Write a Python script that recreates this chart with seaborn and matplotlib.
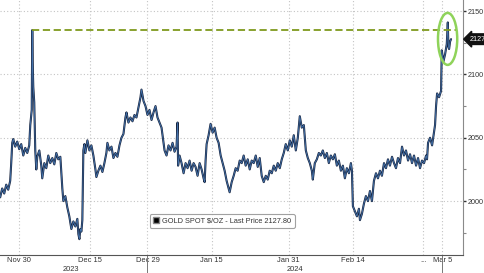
import numpy as np
import pandas as pd
import matplotlib
matplotlib.use("Agg")
import matplotlib.pyplot as plt
from matplotlib.patches import Ellipse
from matplotlib.lines import Line2D
import seaborn as sns

# ---------------- data ----------------
# trading-session calendar (weekends, Christmas and New Year removed)
cal_start = "2023-11-27"
cal_end = "2024-03-08"
holidays = ["2023-12-25", "2024-01-01"]

# time in trading sessions since 27 Nov 2023 00:00, and spot price
t_session = [
    0.03, 0.34, 0.66, 0.97, 1.28, 1.59, 1.75, 1.91, 2.06, 2.38, 2.69, 3.00, 3.31, 3.63,
    3.94, 4.25, 4.56, 4.72, 4.95, 5.03, 5.09, 5.19, 5.34, 5.50, 5.66, 5.81, 6.13, 6.44,
    6.59, 6.91, 7.22, 7.53, 7.84, 8.16, 8.47, 8.78, 9.09, 9.41, 9.72, 9.88, 10.19, 10.50,
    10.81, 11.13, 11.44, 11.75, 12.06, 12.22, 12.38, 12.53, 12.69, 12.84, 13.00, 13.16,
    13.31, 13.63, 13.94, 14.25, 14.56, 14.88, 15.03, 15.34, 15.66, 15.97, 16.28, 16.59,
    16.75, 17.06, 17.38, 17.69, 18.00, 18.31, 18.63, 18.94, 19.25, 19.56, 19.72, 20.03,
    20.34, 20.66, 20.97, 21.28, 21.59, 21.91, 22.06, 22.38, 22.69, 23.00, 23.31, 23.63,
    23.94, 24.25, 24.56, 24.88, 25.19, 25.50, 25.66, 25.97, 26.28, 26.59, 26.91, 27.22,
    27.53, 27.69, 27.77, 28.00, 28.31, 28.63, 28.94, 29.25, 29.56, 29.88, 30.19, 30.50,
    30.81, 31.13, 31.44, 31.75, 31.91, 32.06, 32.22, 32.53, 32.84, 33.16, 33.47, 33.78,
    34.09, 34.41, 34.72, 35.03, 35.34, 35.66, 35.81, 36.13, 36.44, 36.75, 37.06, 37.38,
    37.69, 38.00, 38.31, 38.63, 38.94, 39.25, 39.56, 39.88, 40.19, 40.50, 40.81, 41.13,
    41.44, 41.75, 42.06, 42.38, 42.69, 43.00, 43.31, 43.63, 43.94, 44.25, 44.56, 44.88,
    45.19, 45.50, 45.81, 46.13, 46.44, 46.75, 47.06, 47.38, 47.69, 48.00, 48.31, 48.63,
    48.78, 49.09, 49.41, 49.72, 50.03, 50.34, 50.66, 50.97, 51.28, 51.59, 51.91, 52.22,
    52.53, 52.84, 53.16, 53.47, 53.78, 54.09, 54.41, 54.72, 54.88, 55.03, 55.34, 55.66,
    55.97, 56.13, 56.44, 56.75, 57.06, 57.38, 57.69, 58.00, 58.31, 58.63, 58.94, 59.25,
    59.56, 59.88, 60.19, 60.50, 60.81, 61.13, 61.44, 61.75, 62.06, 62.38, 62.69, 63.00,
    63.31, 63.63, 63.94, 64.25, 64.56, 64.88, 65.19, 65.50, 65.81, 66.13, 66.44, 66.59,
    66.75, 67.06, 67.38, 67.69, 67.84, 68.00, 68.16, 68.47, 68.78, 68.89, 69.14, 69.41,
    69.67, 69.83, 69.92, 70.03, 70.19, 70.34,
]
price = [
    2003, 2010, 2006, 2013, 2009, 2016, 2030, 2046, 2049, 2043, 2047, 2041, 2045, 2036,
    2042, 2038, 2044, 2060, 2072, 2135, 2110, 2090, 2078, 2040, 2025, 2035, 2040, 2028,
    2018, 2030, 2026, 2036, 2030, 2034, 2029, 2038, 2033, 2035, 2010, 2000, 2004, 1995,
    1988, 1978, 1984, 1980, 1986, 1974, 1970, 1978, 1976, 1985, 2040, 2045,
    2038, 2048, 2040, 2044, 2036, 2025, 2019, 2024, 2028, 2023, 2030, 2038,
    2046, 2040, 2043, 2034, 2038, 2035, 2044, 2050, 2053, 2066, 2070, 2062,
    2066, 2063, 2068, 2066, 2074, 2082, 2088, 2079, 2075, 2068, 2072, 2064,
    2070, 2075, 2066, 2062, 2058, 2046, 2040, 2036, 2044, 2040, 2046, 2039,
    2043, 2062, 2028, 2036, 2030, 2022, 2030, 2026, 2032, 2024, 2030, 2027,
    2020, 2030, 2025, 2018, 2015, 2032, 2045, 2052, 2061, 2054, 2058, 2050,
    2046, 2036, 2030, 2024, 2016, 2010, 2007, 2015, 2020, 2026, 2024, 2032,
    2030, 2036, 2028, 2033, 2025, 2032, 2030, 2036, 2027, 2034, 2020, 2015,
    2020, 2017, 2024, 2022, 2028, 2024, 2030, 2026, 2033, 2038, 2045, 2040,
    2048, 2043, 2052, 2040, 2050, 2067, 2058, 2060, 2040, 2034, 2030, 2024,
    2017, 2030, 2033, 2038, 2036, 2040, 2034, 2038, 2030, 2036, 2033, 2037,
    2028, 2032, 2024, 2028, 2018, 2026, 2022, 2030, 2024, 1996, 1992, 1988,
    1994, 1985, 1990, 1998, 2004, 2000, 2008, 2000, 2016, 2022, 2018, 2024,
    2020, 2030, 2026, 2033, 2028, 2035, 2030, 2026, 2034, 2030, 2043, 2036,
    2040, 2032, 2037, 2030, 2036, 2028, 2034, 2026, 2032, 2030, 2036, 2033,
    2046, 2050, 2044, 2055, 2060, 2075, 2085, 2082, 2087, 2119, 2110, 2116,
    2124, 2141, 2122, 2120, 2126, 2127.8,
]

date_tick_dates = ["2023-11-30", "2023-12-15", "2023-12-29", "2024-01-15",
                   "2024-01-31", "2024-02-14", "2024-02-29", "2024-03-05"]
date_tick_labels = ["Nov 30", "Dec 15", "Dec 29", "Jan 15",
                    "Jan 31", "Feb 14", "...", "Mar 5"]
minor_tick_dates = ["2023-12-07", "2023-12-21", "2024-01-08", "2024-01-23",
                    "2024-02-06", "2024-02-21"]
year_labels = ["2023", "2024"]
year_label_dates = ["2023-12-12", "2024-02-01"]
year_line_dates = ["2023-12-29", "2024-03-05"]

y_major = [2000, 2050, 2100, 2150]
y_minor = [1975, 2025, 2075, 2125]
last_price = 2127.80
prior_high = 2135.4
series_name = "GOLD SPOT $/OZ - Last Price 2127.80"

# ---------------- helpers ----------------
sessions = pd.bdate_range(cal_start, cal_end)
sessions = sessions[~sessions.isin(pd.to_datetime(holidays))]


def spos(d):
    return float(sessions.get_loc(pd.Timestamp(d)))


df = pd.DataFrame({"t": t_session, "price": price})

# ---------------- figure ----------------
sns.set_theme(style="white")
plt.rcParams["font.family"] = ["Liberation Sans Narrow", "Liberation Sans", "DejaVu Sans"]

fig = plt.figure(figsize=(4.85, 2.73), dpi=100)
ax = fig.add_axes([0.0, 18 / 273, 463 / 485, 255 / 273])

ax.set_xlim(0, 72.2)
ax.set_ylim(1957.5, 2158.7)

# grid
grid_kw = dict(color="#c4c4c4", lw=0.8, linestyle=(0, (1, 2)), zorder=0)
for v in y_major:
    ax.axhline(v, **grid_kw)
for d in date_tick_dates:
    ax.axvline(spos(d), **grid_kw)

# series
sns.lineplot(data=df, x="t", y="price", ax=ax, color="#17233d", lw=1.5,
             estimator=None, sort=False, zorder=3)
sns.lineplot(data=df, x="t", y="price", ax=ax, color="#4f86c6", lw=0.6,
             estimator=None, sort=False, zorder=4, alpha=0.8)

# prior high line
spike_t = t_session[int(np.argmax(price[:60]))]
ax.hlines(prior_high, spike_t, 71.3, color="#7f9a1e", lw=1.3,
          linestyles=(0, (4, 2)), zorder=5)

# ellipse highlight
ax.add_patch(Ellipse((69.8, 2128), width=3.0, height=41, fill=False,
                     edgecolor="#8fd35a", lw=1.8, zorder=6))

# spines
for s in ["top", "left"]:
    ax.spines[s].set_visible(False)
ax.spines["right"].set_color("#8a8a8a")
ax.spines["right"].set_linewidth(0.8)
ax.spines["bottom"].set_color("#555555")
ax.spines["bottom"].set_linewidth(0.8)

# y axis on the right
ax.yaxis.tick_right()
ax.set_yticks(y_major)
ax.set_yticks(y_minor, minor=True)
ax.set_yticklabels([str(v) for v in y_major])
ax.tick_params(axis="y", which="major", direction="out", length=2.5, width=1.0,
               color="#333333", labelsize=5.2, labelcolor="#333333", pad=0.8)
ax.tick_params(axis="y", which="minor", direction="out", length=2, width=0.8,
               color="#888888")

# x axis
ax.set_xticks([spos(d) for d in date_tick_dates])
ax.set_xticklabels(date_tick_labels)
ax.set_xticks([spos(d) for d in minor_tick_dates], minor=True)
ax.tick_params(axis="x", which="major", direction="out", length=0,
               labelsize=5.4, labelcolor="#333333", pad=1.8)
ax.tick_params(axis="x", which="minor", direction="out", length=2, width=0.6,
               color="#777777")
ax.set_xlabel("")
ax.set_ylabel("")

# year labels and separators
trans = ax.get_xaxis_transform()
for lab, d in zip(year_labels, year_label_dates):
    ax.text(spos(d), -0.055, lab, transform=trans, ha="center", va="center",
            fontsize=5.4, color="#333333", clip_on=False)
for d in year_line_dates:
    ax.plot([spos(d), spos(d)], [0, -0.08], transform=trans, color="#777777",
            lw=0.7, clip_on=False)

# last price tag
ax.text(1.014, (last_price - 1957.5) / (2158.7 - 1957.5), f"{last_price:.2f}",
        transform=ax.transAxes, ha="left", va="center", fontsize=5.2,
        color="white", clip_on=False,
        bbox=dict(boxstyle="larrow,pad=0.25", fc="#111111", ec="#111111"))

# legend
handle = Line2D([], [], marker="s", color="none", markerfacecolor="#000000",
                markeredgecolor="#888888", markersize=4.5)
leg = ax.legend([handle], [series_name], loc="lower left",
                bbox_to_anchor=(0.324, 0.106), borderaxespad=0, fontsize=5.3,
                frameon=True, fancybox=True, handlelength=0.8, handletextpad=0.4,
                borderpad=0.45)
leg.get_frame().set_edgecolor("#8a8a8a")
leg.get_frame().set_linewidth(0.8)
for txt in leg.get_texts():
    txt.set_color("#333333")

fig.savefig("out.png", dpi=100)
